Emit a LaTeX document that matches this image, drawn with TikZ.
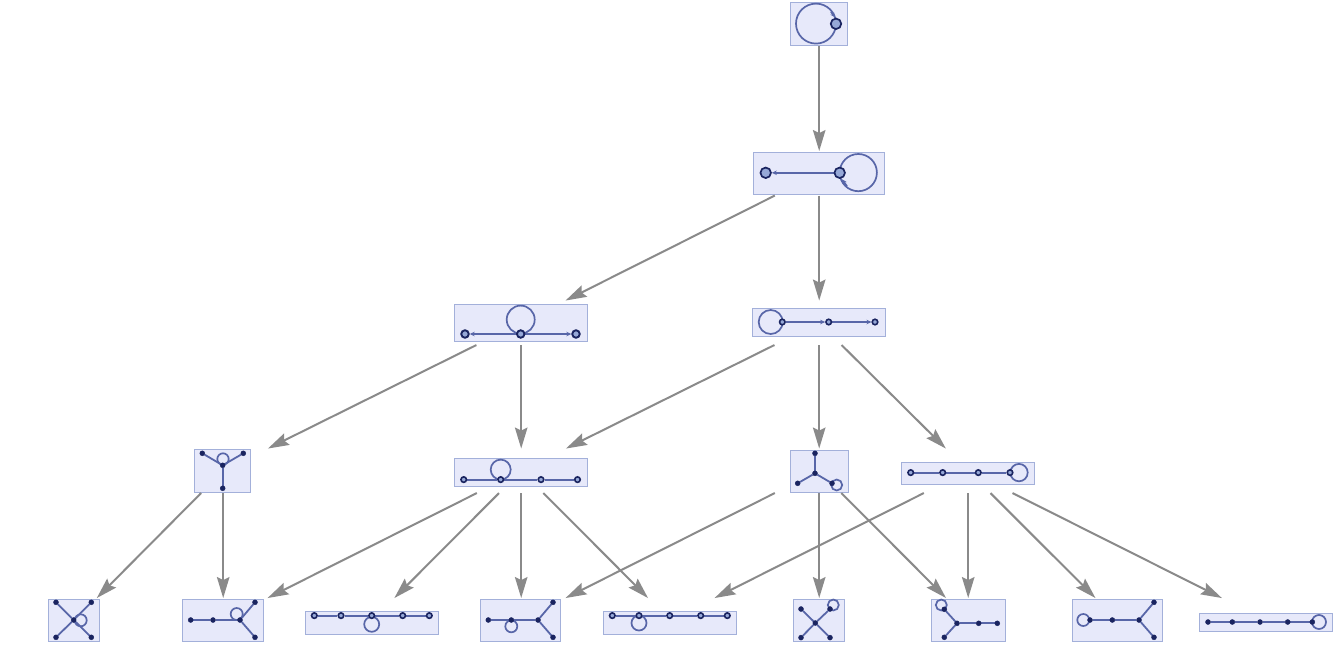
\documentclass[tikz,border=0pt]{standalone}
\usetikzlibrary{arrows.meta}
\pgfdeclarelayer{boxlayer}
\pgfdeclarelayer{edgelayer}
\pgfsetlayers{boxlayer,edgelayer,main}
\definecolor{boxfill}{RGB}{231,233,250}
\definecolor{boxline}{RGB}{163,176,218}
\definecolor{conn}{RGB}{138,138,138}
\definecolor{edgeblue}{RGB}{88,102,168}
\definecolor{vxdark}{RGB}{26,36,96}
\definecolor{vxlight}{RGB}{150,168,215}
\tikzset{
  slot/.style={rectangle,minimum width=120pt,minimum height=44.5pt,inner sep=0pt,outer sep=0pt},
  boxn/.style={rectangle,draw=boxline,fill=boxfill,line width=1.1pt,inner sep=0pt},
  conn/.style={draw=conn,line width=2pt,-{Stealth[length=21pt,width=12.5pt,inset=3pt]}},
  ged/.style={draw=edgeblue,line width=1.8pt},
  tipped/.style={ged,-{Stealth[length=5pt,width=4.5pt]}},
  lp/.style={draw=edgeblue,line width=1.7pt},
  vbig/.style={circle,draw=vxdark,fill=vxlight,line width=1.7pt,minimum size=10.5pt,inner sep=0pt},
  vmid/.style={circle,draw=vxdark,fill=vxlight,line width=1.9pt,minimum size=7.5pt,inner sep=0pt},
  vring/.style={circle,draw=vxdark,fill=vxlight,line width=1.6pt,minimum size=5.5pt,inner sep=0pt},
  vdot/.style={circle,draw=vxdark,fill=vxdark,line width=0.4pt,minimum size=5pt,inner sep=0pt},
}
\newcommand{\slotbox}[7]{% name, slot x, slot y, x0, y0, x1, y1
  \node[slot] (#1) at (#2,#3) {};
  \begin{pgfonlayer}{boxlayer}
    \node[boxn,minimum width={(#6-#4)*1pt},minimum height={(#7-#5)*1pt}] (#1box) at ({(#4+#6)/2},{(#5+#7)/2}) {};
  \end{pgfonlayer}
}
\newcommand{\gedge}[2]{\begin{pgfonlayer}{edgelayer}\draw[ged] (#1) -- (#2);\end{pgfonlayer}}
\newcommand{\tedge}[2]{\begin{pgfonlayer}{edgelayer}\draw[tipped] (#1) -- (#2);\end{pgfonlayer}}
\newcommand{\gloop}[3]{\begin{pgfonlayer}{edgelayer}\draw[lp] (#1,#2) circle[radius=#3pt];\end{pgfonlayer}}
\begin{document}
\begin{tikzpicture}[x=1pt,y=-1pt]
\useasboundingbox (0,0) rectangle (1342,646);
\begin{scope}[shift={(-0.3,0.3)}]
% boxes and layout slots
\slotbox{r}{819.5}{23.5}{791}{2}{848}{45}
\slotbox{a}{819.5}{173}{754}{152}{885}{194}
\slotbox{ba}{521.5}{322.5}{455}{304}{588}{341}
\slotbox{bb}{819.5}{322.5}{753}{308}{886}{336}
\slotbox{ca}{223.5}{470.5}{195}{449}{251}{492}
\slotbox{cb}{521.5}{470.5}{455}{458}{588}{486}
\slotbox{cc}{819.5}{470.5}{791}{450}{849}{492}
\slotbox{cd}{968.5}{470.5}{902}{462}{1035}{484}
\slotbox{da}{75}{620}{49}{599}{100}{641}
\slotbox{db}{223.5}{620}{183}{599}{264}{641}
\slotbox{dc}{372.5}{620}{306}{611}{439}{634}
\slotbox{dd}{521.5}{620}{481}{599}{561}{641}
\slotbox{de}{670.5}{620}{604}{611}{737}{634}
\slotbox{df}{819.5}{620}{794}{599}{845}{641}
\slotbox{dg}{968.5}{620}{932}{599}{1006}{641}
\slotbox{dh}{1118}{620}{1073}{599}{1163}{641}
\slotbox{di}{1266.5}{620}{1200}{613}{1333}{631}
% connectors
\foreach \s/\t in {r/a,a/ba,a/bb,ba/ca,ba/cb,bb/cb,bb/cc,bb/cd,ca/da,ca/db,cb/db,cb/dc,cb/dd,cb/de,cc/dd,cc/df,cc/dg,cd/de,cd/dg,cd/dh,cd/di}
  \draw[conn] (\s) -- (\t);
% root
\node[vbig] (r1) at (836.3,23.5) {};
\gloop{816.3}{23.3}{20}
\begin{pgfonlayer}{edgelayer}\coordinate (rt0) at (831.3,11.5);\coordinate (rt1) at (835.3,17);\draw[tipped] (rt0) -- (rt1);\end{pgfonlayer}
% a
\node[vbig] (a1) at (766,172.5) {};
\node[vbig] (a2) at (840,172.5) {};
\gloop{858.6}{172.3}{18.6}
\tedge{a2}{a1}
\begin{pgfonlayer}{edgelayer}\coordinate (at0) at (847.3,186);\coordinate (at1) at (842.3,179);\draw[tipped] (at0) -- (at1);\end{pgfonlayer}
% ba
\node[vmid] (b1) at (465.3,333.7) {};
\node[vmid] (b2) at (521,333.7) {};
\node[vmid] (b3) at (576.3,333.7) {};
\gloop{521}{319.3}{14}
\tedge{b2}{b1}
\tedge{b2}{b3}
% bb
\node[vring] (e1) at (782.6,321.7) {};
\node[vring] (e2) at (829,321.7) {};
\node[vring] (e3) at (875.3,321.7) {};
\gloop{771}{321.7}{12}
\tedge{e1}{e2}
\tedge{e2}{e3}
% ca
\node[vdot] (f1) at (202.6,453) {};
\node[vdot] (f2) at (243.6,453) {};
\node[vdot] (f3) at (223,465) {};
\node[vdot] (f4) at (223,488) {};
\gloop{223.3}{458.7}{5.7}
\gedge{f3}{f1}\gedge{f3}{f2}\gedge{f3}{f4}
% cb
\node[vring] (g1) at (464,479.3) {};
\node[vring] (g2) at (501,479.3) {};
\node[vring] (g3) at (541.3,479.3) {};
\node[vring] (g4) at (577.8,479.3) {};
\gloop{501}{469.3}{10}
\gedge{g1}{g2}\gedge{g2}{g3}\gedge{g3}{g4}
% cc
\node[vdot] (h1) at (815.3,453) {};
\node[vdot] (h2) at (815.3,473) {};
\node[vdot] (h3) at (798,483) {};
\node[vdot] (h4) at (832.3,483) {};
\gloop{837}{484.7}{5.5}
\gedge{h2}{h1}\gedge{h2}{h3}\gedge{h2}{h4}
% cd
\node[vring] (i1) at (911,472.3) {};
\node[vring] (i2) at (943,472.3) {};
\node[vring] (i3) at (978.6,472.3) {};
\node[vring] (i4) at (1010.3,472.3) {};
\gloop{1019.3}{472.3}{8.7}
\gedge{i1}{i2}\gedge{i2}{i3}\gedge{i3}{i4}
% da
\node[vdot] (j0) at (74,619.7) {};
\node[vdot] (j1) at (56.3,602) {};
\node[vdot] (j2) at (91.6,602) {};
\node[vdot] (j3) at (56.3,637) {};
\node[vdot] (j4) at (91.6,637) {};
\gloop{81}{620}{6}
\gedge{j0}{j1}\gedge{j0}{j2}\gedge{j0}{j3}\gedge{j0}{j4}
% db
\node[vdot] (k1) at (191,619.7) {};
\node[vdot] (k2) at (213.3,619.7) {};
\node[vdot] (k3) at (240.3,619.7) {};
\node[vdot] (k4) at (255.3,602) {};
\node[vdot] (k5) at (255.3,637) {};
\gloop{237}{613.7}{6}
\gedge{k1}{k2}\gedge{k2}{k3}\gedge{k3}{k4}\gedge{k3}{k5}
% dc
\node[vring] (l1) at (314.6,615.3) {};
\node[vring] (l2) at (341.3,615.3) {};
\node[vring] (l3) at (372,615.3) {};
\node[vring] (l4) at (403,615.3) {};
\node[vring] (l5) at (429.6,615.3) {};
\gloop{372}{624}{7.5}
\gedge{l1}{l2}\gedge{l2}{l3}\gedge{l3}{l4}\gedge{l4}{l5}
% dd
\node[vdot] (m1) at (488.6,619.7) {};
\node[vdot] (m2) at (511.6,619.7) {};
\node[vdot] (m3) at (538.3,619.7) {};
\node[vdot] (m4) at (553.3,602) {};
\node[vdot] (m5) at (553.3,637) {};
\gloop{511.6}{626}{6}
\gedge{m1}{m2}\gedge{m2}{m3}\gedge{m3}{m4}\gedge{m3}{m5}
% de
\node[vring] (n1) at (612.6,615.3) {};
\node[vring] (n2) at (639.3,615.3) {};
\node[vring] (n3) at (670,615.3) {};
\node[vring] (n4) at (701,615.3) {};
\node[vring] (n5) at (727.6,615.3) {};
\gloop{639.3}{622.7}{7.5}
\gedge{n1}{n2}\gedge{n2}{n3}\gedge{n3}{n4}\gedge{n4}{n5}
% df
\node[vdot] (o0) at (815.6,622.7) {};
\node[vdot] (o1) at (801.3,608.7) {};
\node[vdot] (o2) at (830.3,608.7) {};
\node[vdot] (o3) at (801.3,637.3) {};
\node[vdot] (o4) at (830.3,637.3) {};
\gloop{833.6}{604.7}{5.5}
\gedge{o0}{o1}\gedge{o0}{o2}\gedge{o0}{o3}\gedge{o0}{o4}
% dg
\node[vdot] (p1) at (944.6,609) {};
\node[vdot] (p2) at (957.3,623) {};
\node[vdot] (p3) at (979,623) {};
\node[vdot] (p4) at (997.6,623) {};
\node[vdot] (p5) at (944.6,637) {};
\gloop{941.6}{604.7}{5.5}
\gedge{p1}{p2}\gedge{p2}{p3}\gedge{p3}{p4}\gedge{p2}{p5}
% dh
\node[vdot] (q1) at (1090.3,619.7) {};
\node[vdot] (q2) at (1112.6,619.7) {};
\node[vdot] (q3) at (1139.3,619.7) {};
\node[vdot] (q4) at (1154.3,602) {};
\node[vdot] (q5) at (1154.3,637) {};
\gloop{1083.6}{619.7}{6}
\gedge{q1}{q2}\gedge{q2}{q3}\gedge{q3}{q4}\gedge{q3}{q5}
% di
\node[vdot] (s1) at (1208.3,621.7) {};
\node[vdot] (s2) at (1232.6,621.7) {};
\node[vdot] (s3) at (1260.3,621.7) {};
\node[vdot] (s4) at (1288,621.7) {};
\node[vdot] (s5) at (1312.6,621.7) {};
\gloop{1319.3}{621.7}{7}
\gedge{s1}{s2}\gedge{s2}{s3}\gedge{s3}{s4}\gedge{s4}{s5}
\end{scope}
\end{tikzpicture}
\end{document}
